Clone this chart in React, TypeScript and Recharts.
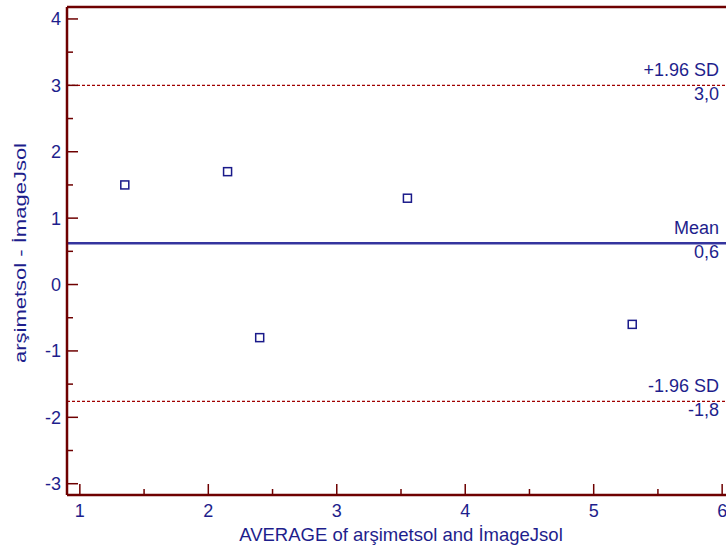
import React from "react";
import {
  ScatterChart,
  Scatter,
  XAxis,
  YAxis,
  ReferenceLine,
} from "recharts";

// Bland-Altman data
const averages = [1.35, 2.15, 2.4, 3.55, 5.3];
const differences = [1.5, 1.7, -0.8, 1.3, -0.6];
const meanDiff = 0.62;
const upperLimit = 3.0;
const lowerLimit = -1.76;
const meanLabels = ["Mean", "0,6"];
const upperLabels = ["+1.96 SD", "3,0"];
const lowerLabels = ["-1.96 SD", "-1,8"];

const xTicks = [1, 1.5, 2, 2.5, 3, 3.5, 4, 4.5, 5, 5.5, 6];
const yTicks = [-3, -2.5, -2, -1.5, -1, -0.5, 0, 0.5, 1, 1.5, 2, 2.5, 3, 3.5, 4];
const xDomain: [number, number] = [0.9, 6.1];
const yDomain: [number, number] = [-3.17, 4.18];

const xTitle = "AVERAGE of arşimetsol and İmageJsol";
const yTitle = "arşimetsol - İmageJsol";

const AXIS = "#6e0000";
const LIMIT = "#a00000";
const TEXT = "#1e1e8c";
const FONT = "'Liberation Sans', Arial, sans-serif";

const points = averages.map((x, i) => ({ x, y: differences[i] }));

const YTick = (props: any) => {
  const { x, y, payload } = props;
  const major = Number.isInteger(payload.value);
  return (
    <g>
      <line x1={x} x2={x + (major ? 11 : 6)} y1={y} y2={y} stroke={AXIS} strokeWidth={1.5} />
      {major && (
        <text x={x - 6} y={y} dy="0.36em" textAnchor="end" fill={TEXT} fontSize={18} fontFamily={FONT}>
          {payload.value}
        </text>
      )}
    </g>
  );
};

const XTick = (props: any) => {
  const { x, y, payload } = props;
  const major = Number.isInteger(payload.value);
  return (
    <g>
      <line x1={x} x2={x} y1={y} y2={y - (major ? 11 : 6)} stroke={AXIS} strokeWidth={1.5} />
      {major && (
        <text x={x} y={y + 22} textAnchor="middle" fill={TEXT} fontSize={18} fontFamily={FONT}>
          {payload.value}
        </text>
      )}
    </g>
  );
};

const LineLabel = ({ viewBox, labels }: any) => {
  const right = viewBox.x + viewBox.width - 16;
  return (
    <g fill={TEXT} fontSize={18} fontFamily={FONT} textAnchor="end">
      <text x={right} y={viewBox.y - 9}>{labels[0]}</text>
      <text x={right} y={viewBox.y + 15}>{labels[1]}</text>
    </g>
  );
};

const XTitle = ({ viewBox }: any) => (
  <text
    x={viewBox.x + viewBox.width / 2}
    y={viewBox.y + 46}
    textAnchor="middle"
    fill={TEXT}
    fontSize={18.5}
    fontFamily={FONT}
  >
    {xTitle}
  </text>
);

const YTitle = ({ viewBox }: any) => {
  const cx = 26;
  const cy = viewBox.y + viewBox.height / 2 + 2;
  return (
    <text
      x={cx}
      y={cy}
      transform={`rotate(-90, ${cx}, ${cy})`}
      textAnchor="middle"
      fill={TEXT}
      fontSize={16}
      fontFamily={FONT}
      textLength={220}
      lengthAdjust="spacingAndGlyphs"
    >
      {yTitle}
    </text>
  );
};

const Square = (p: any) => (
  <rect x={p.cx - 4} y={p.cy - 4} width={8} height={8} fill="none" stroke="#1a1a8a" strokeWidth={1.5} />
);

export default function App() {
  return (
    <div style={{ position: "absolute", left: 0, top: 0, width: 726, height: 551, overflow: "hidden", background: "#fff" }}>
      <ScatterChart width={760} height={551} margin={{ top: 7, right: 25, bottom: 0, left: 0 }}>
        <XAxis
          type="number"
          dataKey="x"
          domain={xDomain}
          ticks={xTicks}
          interval={0}
          height={56}
          tickSize={0}
          tickMargin={0}
          tickLine={false}
          tick={<XTick />}
          axisLine={{ stroke: AXIS, strokeWidth: 2.5 }}
          label={<XTitle />}
        />
        <YAxis
          type="number"
          dataKey="y"
          domain={yDomain}
          ticks={yTicks}
          interval={0}
          width={67}
          tickSize={0}
          tickMargin={0}
          tickLine={false}
          tick={<YTick />}
          axisLine={{ stroke: AXIS, strokeWidth: 2.5 }}
          label={<YTitle />}
        />
        <ReferenceLine y={yDomain[1]} stroke={AXIS} strokeWidth={2.5} ifOverflow="visible" />
        <ReferenceLine
          y={upperLimit}
          stroke={LIMIT}
          strokeWidth={1.2}
          strokeDasharray="3 2"
          label={<LineLabel labels={upperLabels} />}
        />
        <ReferenceLine
          y={meanDiff}
          stroke="#34349e"
          strokeWidth={2.5}
          label={<LineLabel labels={meanLabels} />}
        />
        <ReferenceLine
          y={lowerLimit}
          stroke={LIMIT}
          strokeWidth={1.2}
          strokeDasharray="3 2"
          label={<LineLabel labels={lowerLabels} />}
        />
        <Scatter data={points} shape={<Square />} isAnimationActive={false} />
      </ScatterChart>
    </div>
  );
}
